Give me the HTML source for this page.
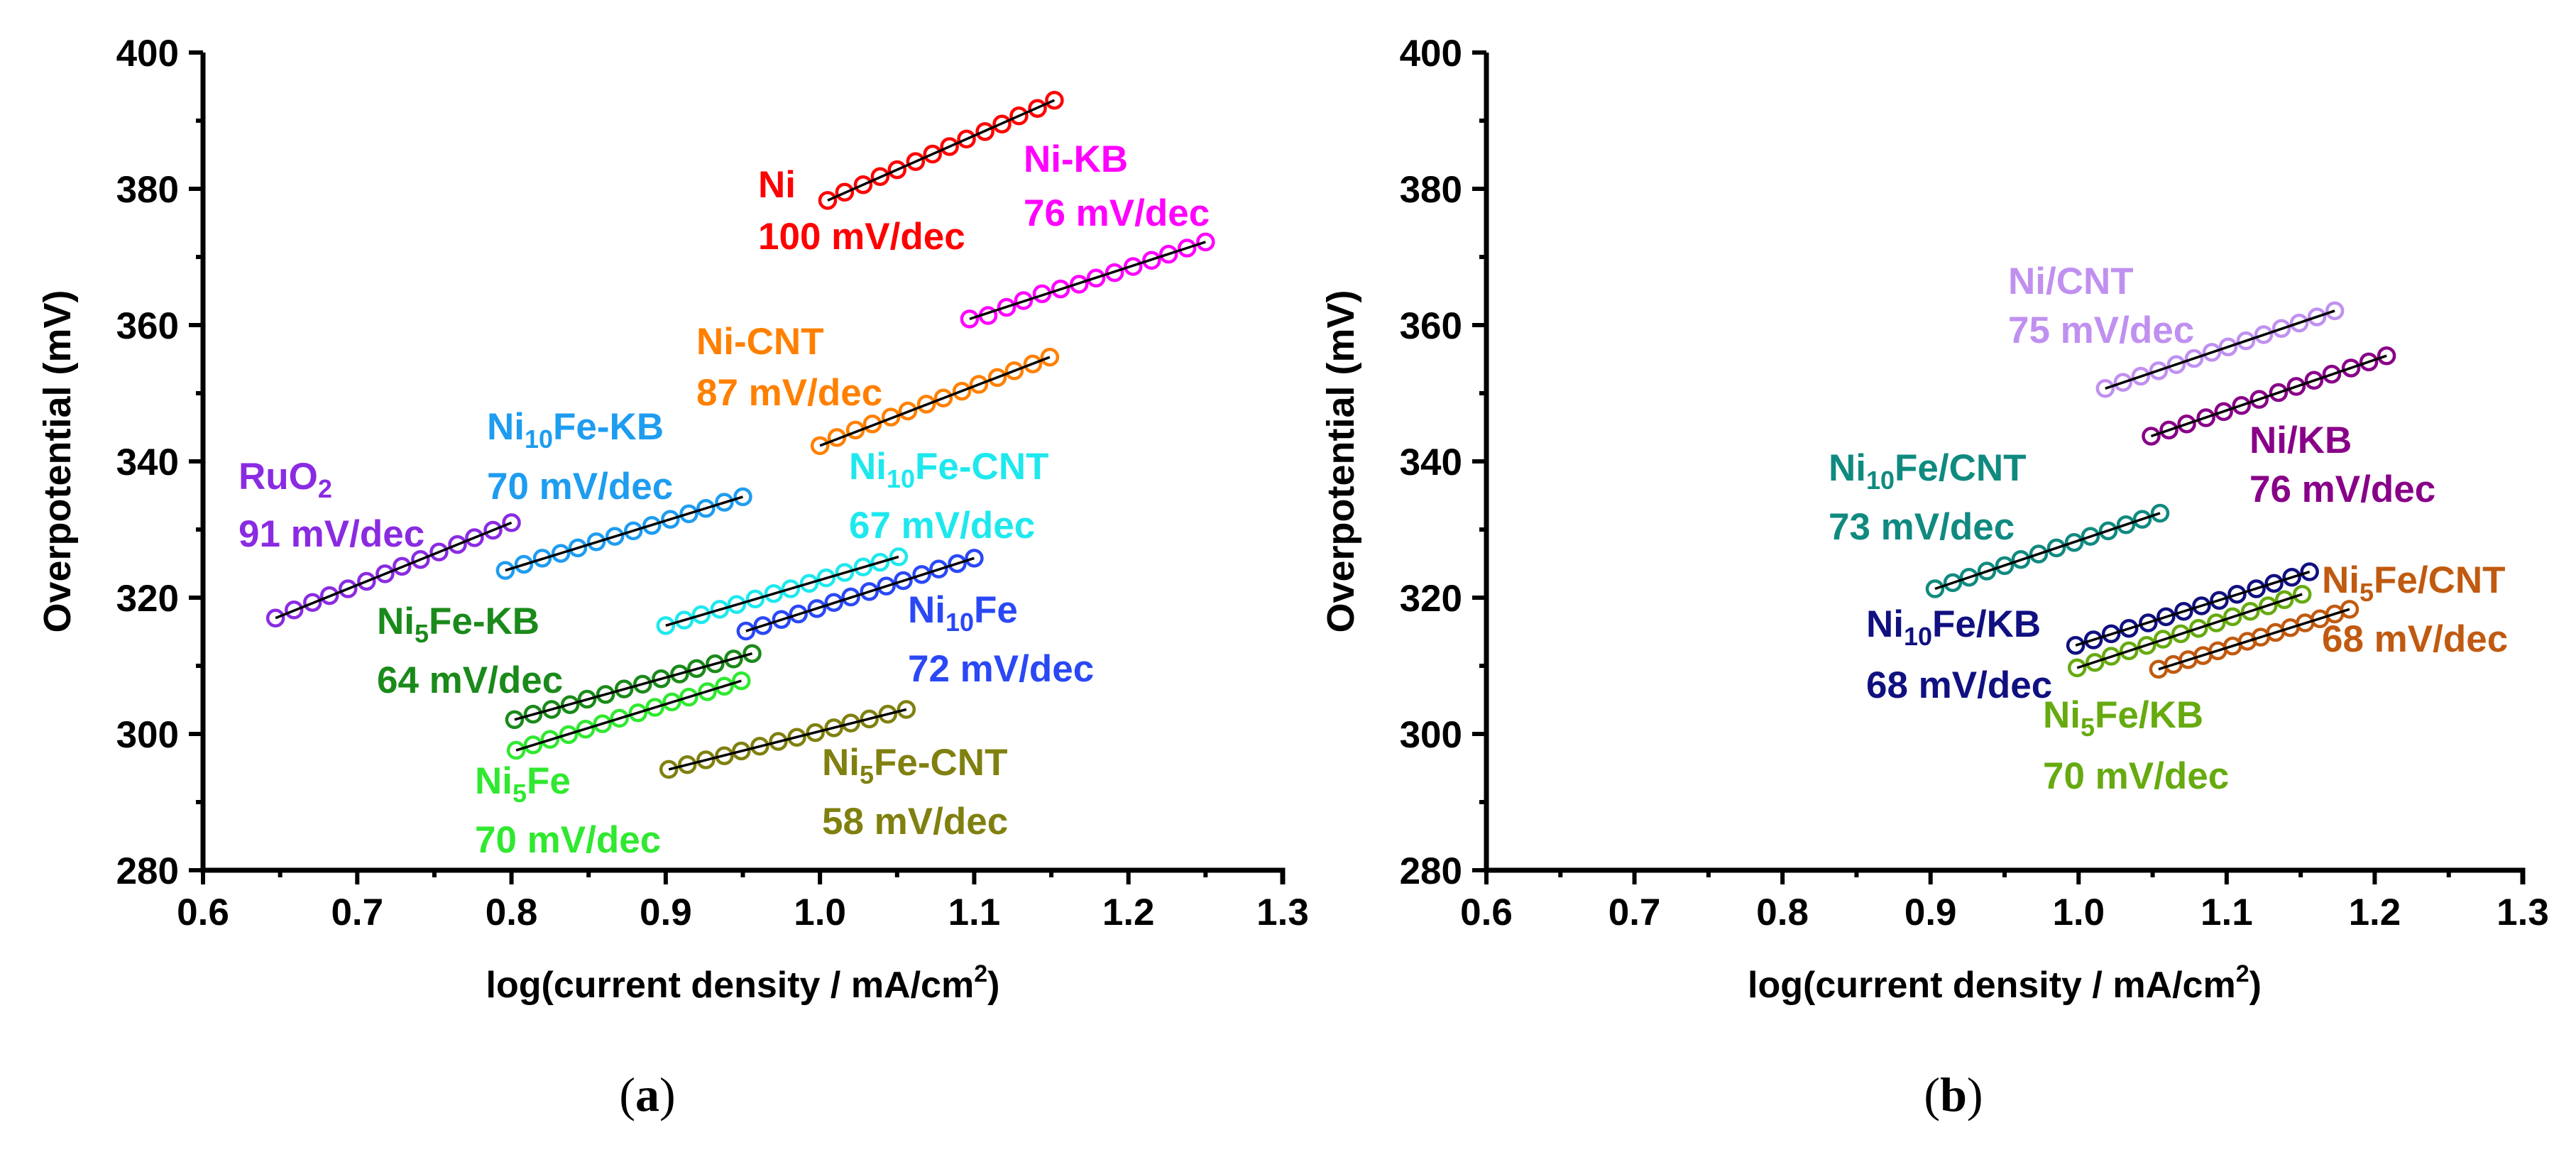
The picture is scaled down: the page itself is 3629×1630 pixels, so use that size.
<!DOCTYPE html>
<html><head><meta charset="utf-8"><style>
html,body{margin:0;padding:0;background:#fff;}
svg{display:block;font-family:"Liberation Sans",Arial,sans-serif;}
</style></head><body>
<svg id="fig" width="3629" height="1630" viewBox="0 0 3629 1630" xmlns="http://www.w3.org/2000/svg"></svg>
<script>
// ---- axis data ----
const xTicks=[0.6,0.7,0.8,0.9,1.0,1.1,1.2,1.3];
const xTickLabels=["0.6","0.7","0.8","0.9","1.0","1.1","1.2","1.3"];
const yTicks=[280,300,320,340,360,380,400];
const yTickLabels=["280","300","320","340","360","380","400"];
// ---- panel (a) series ----
const niX=[1.005,1.016,1.028,1.039,1.050,1.062,1.073,1.084,1.095,1.107,1.118,1.129,1.141,1.152];
const niY=[378.3,379.5,380.6,381.8,382.8,384.0,385.1,386.2,387.3,388.4,389.5,390.7,391.8,393.0];
const niKbX=[1.097,1.109,1.121,1.132,1.144,1.156,1.168,1.179,1.191,1.203,1.215,1.226,1.238,1.250];
const niKbY=[360.9,361.4,362.6,363.6,364.6,365.3,366.0,366.9,367.7,368.6,369.5,370.4,371.3,372.2];
const niCntX=[1.000,1.011,1.023,1.034,1.046,1.057,1.069,1.080,1.092,1.103,1.115,1.126,1.138,1.149];
const niCntY=[342.3,343.5,344.6,345.5,346.5,347.4,348.4,349.3,350.3,351.3,352.3,353.3,354.3,355.3];
const ni10KbX=[0.796,0.808,0.820,0.832,0.843,0.855,0.867,0.879,0.891,0.903,0.915,0.926,0.938,0.950];
const ni10KbY=[324.0,324.9,325.8,326.5,327.3,328.2,329.0,329.8,330.6,331.5,332.3,333.1,334.0,334.8];
const ruX=[0.647,0.659,0.671,0.682,0.694,0.706,0.718,0.729,0.741,0.753,0.765,0.776,0.788,0.800];
const ruY=[317.0,318.2,319.3,320.3,321.3,322.4,323.5,324.6,325.6,326.7,327.8,328.8,329.9,331.0];
const ni10CntX=[0.900,0.912,0.923,0.935,0.946,0.958,0.970,0.981,0.993,1.004,1.016,1.028,1.039,1.051];
const ni10CntY=[315.9,316.7,317.5,318.3,319.0,319.8,320.6,321.3,322.1,322.9,323.7,324.5,325.2,326.0];
const ni10X=[0.952,0.963,0.975,0.986,0.998,1.009,1.020,1.032,1.043,1.054,1.066,1.077,1.089,1.100];
const ni10Y=[315.1,315.9,316.8,317.6,318.4,319.3,320.1,320.9,321.7,322.5,323.4,324.2,325.0,325.8];
const ni5KbX=[0.802,0.814,0.826,0.838,0.849,0.861,0.873,0.885,0.897,0.909,0.920,0.932,0.944,0.956];
const ni5KbY=[302.1,302.9,303.6,304.3,305.1,305.8,306.6,307.3,308.1,308.8,309.6,310.3,311.0,311.8];
const ni5X=[0.803,0.814,0.825,0.837,0.848,0.859,0.870,0.882,0.893,0.904,0.915,0.927,0.938,0.949];
const ni5Y=[297.6,298.4,299.2,299.9,300.7,301.5,302.3,303.1,303.9,304.7,305.4,306.2,307.0,307.8];
const ni5CntX=[0.902,0.914,0.926,0.938,0.949,0.961,0.973,0.985,0.997,1.009,1.020,1.032,1.044,1.056];
const ni5CntY=[294.8,295.5,296.2,296.8,297.5,298.2,298.9,299.5,300.2,300.9,301.6,302.2,302.9,303.6];
// ---- panel (b) series ----
const bNiCntX=[1.018,1.030,1.042,1.054,1.066,1.078,1.090,1.101,1.113,1.125,1.137,1.149,1.161,1.173];
const bNiCntY=[350.7,351.6,352.5,353.3,354.2,355.1,356.0,356.8,357.7,358.6,359.5,360.3,361.2,362.1];
const bNiKbX=[1.049,1.061,1.073,1.086,1.098,1.110,1.122,1.135,1.147,1.159,1.171,1.184,1.196,1.208];
const bNiKbY=[343.7,344.6,345.5,346.4,347.3,348.2,349.1,350.1,351.0,351.9,352.8,353.7,354.6,355.5];
const bNi10CntX=[0.903,0.915,0.926,0.938,0.950,0.961,0.973,0.985,0.997,1.008,1.020,1.032,1.043,1.055];
const bNi10CntY=[321.3,322.2,323.0,323.9,324.7,325.6,326.4,327.3,328.1,329.0,329.8,330.7,331.5,332.4];
const bNi10KbX=[0.998,1.010,1.022,1.034,1.047,1.059,1.071,1.083,1.095,1.107,1.120,1.132,1.144,1.156];
const bNi10KbY=[313.0,313.8,314.7,315.5,316.3,317.2,318.0,318.8,319.6,320.5,321.3,322.1,323.0,323.8];
const bNi5KbX=[0.999,1.011,1.022,1.034,1.046,1.057,1.069,1.081,1.093,1.104,1.116,1.128,1.139,1.151];
const bNi5KbY=[309.7,310.5,311.4,312.2,313.0,313.9,314.7,315.5,316.3,317.2,318.0,318.8,319.7,320.5];
const bNi5CntX=[1.054,1.064,1.074,1.084,1.094,1.104,1.114,1.123,1.133,1.143,1.153,1.163,1.173,1.183];
const bNi5CntY=[309.5,310.2,310.9,311.5,312.2,312.9,313.6,314.2,314.9,315.6,316.3,316.9,317.6,318.3];

const NS="http://www.w3.org/2000/svg";
const svg=document.getElementById('fig');
function mk(tag,attrs,parent){const e=document.createElementNS(NS,tag);for(const k in attrs)e.setAttribute(k,attrs[k]);(parent||svg).appendChild(e);return e;}

const panels=[
 {id:'a',x0:286,x1:1807,y0:1226,y1:74,title:'(a)',titleX:912,
  series:[
   {n:'ni',x:niX,y:niY,c:'#ff0000',l1:'Ni',l2:'100 mV/dec',lx:1068,ly1:259,ly2:332},
   {n:'ni-kb',x:niKbX,y:niKbY,c:'#ff00ff',l1:'Ni-KB',l2:'76 mV/dec',lx:1442,ly1:223,ly2:299},
   {n:'ni-cnt',x:niCntX,y:niCntY,c:'#ff8000',l1:'Ni-CNT',l2:'87 mV/dec',lx:981,ly1:480,ly2:552},
   {n:'ni10fe-kb',x:ni10KbX,y:ni10KbY,c:'#1e9cf0',l1:'Ni<tspan font-size="36" dy="12">10</tspan><tspan dy="-12">Fe-KB</tspan>',l2:'70 mV/dec',lx:686,ly1:600,ly2:684},
   {n:'ruo2',x:ruX,y:ruY,c:'#8a2be2',l1:'RuO<tspan font-size="36" dy="12">2</tspan>',l2:'91 mV/dec',lx:336,ly1:670,ly2:751},
   {n:'ni10fe-cnt',x:ni10CntX,y:ni10CntY,c:'#1ee8ee',l1:'Ni<tspan font-size="36" dy="12">10</tspan><tspan dy="-12">Fe-CNT</tspan>',l2:'67 mV/dec',lx:1196,ly1:656,ly2:739},
   {n:'ni10fe',x:ni10X,y:ni10Y,c:'#2a48f5',l1:'Ni<tspan font-size="36" dy="12">10</tspan><tspan dy="-12">Fe</tspan>',l2:'72 mV/dec',lx:1279,ly1:858,ly2:941},
   {n:'ni5fe-kb',x:ni5KbX,y:ni5KbY,c:'#1a8a1a',l1:'Ni<tspan font-size="36" dy="12">5</tspan><tspan dy="-12">Fe-KB</tspan>',l2:'64 mV/dec',lx:531,ly1:874,ly2:957},
   {n:'ni5fe',x:ni5X,y:ni5Y,c:'#30e830',l1:'Ni<tspan font-size="36" dy="12">5</tspan><tspan dy="-12">Fe</tspan>',l2:'70 mV/dec',lx:669,ly1:1099,ly2:1182},
   {n:'ni5fe-cnt',x:ni5CntX,y:ni5CntY,c:'#808010',l1:'Ni<tspan font-size="36" dy="12">5</tspan><tspan dy="-12">Fe-CNT</tspan>',l2:'58 mV/dec',lx:1158,ly1:1073,ly2:1156}
  ]},
 {id:'b',x0:2094,x1:3554,y0:1226,y1:74,title:'(b)',titleX:2752,
  series:[
   {n:'ni-cnt-b',x:bNiCntX,y:bNiCntY,c:'#c090f0',l1:'Ni/CNT',l2:'75 mV/dec',lx:2829,ly1:395,ly2:464},
   {n:'ni-kb-b',x:bNiKbX,y:bNiKbY,c:'#880088',l1:'Ni/KB',l2:'76 mV/dec',lx:3169,ly1:619,ly2:688},
   {n:'ni10fe-cnt-b',x:bNi10CntX,y:bNi10CntY,c:'#108a80',l1:'Ni<tspan font-size="36" dy="12">10</tspan><tspan dy="-12">Fe/CNT</tspan>',l2:'73 mV/dec',lx:2576,ly1:658,ly2:741},
   {n:'ni10fe-kb-b',x:bNi10KbX,y:bNi10KbY,c:'#101080',l1:'Ni<tspan font-size="36" dy="12">10</tspan><tspan dy="-12">Fe/KB</tspan>',l2:'68 mV/dec',lx:2629,ly1:878,ly2:964},
   {n:'ni5fe-kb-b',x:bNi5KbX,y:bNi5KbY,c:'#66aa10',l1:'Ni<tspan font-size="36" dy="12">5</tspan><tspan dy="-12">Fe/KB</tspan>',l2:'70 mV/dec',lx:2878,ly1:1006,ly2:1092},
   {n:'ni5fe-cnt-b',x:bNi5CntX,y:bNi5CntY,c:'#c05a10',l1:'Ni<tspan font-size="36" dy="12">5</tspan><tspan dy="-12">Fe/CNT</tspan>',l2:'68 mV/dec',lx:3271,ly1:816,ly2:899}
  ]}
];

panels.forEach(p=>{
  const sx=v=>p.x0+(v-0.6)/(1.3-0.6)*(p.x1-p.x0);
  const sy=v=>p.y0-(v-280)/(400-280)*(p.y0-p.y1);
  const g=mk('g',{});
  
  
  xTicks.forEach((t,i)=>{
    const x=sx(t);
    const tk=mk('line',{x1:x,y1:p.y0,x2:x,y2:p.y0+20,stroke:'#000','stroke-width':6},g);
    
    
    if(i<xTicks.length-1){const xm=sx(t+0.05);
      const mt=mk('line',{x1:xm,y1:p.y0,x2:xm,y2:p.y0+10,stroke:'#000','stroke-width':6},g);
      
      }
    const lb=mk('text',{x:x,y:1303,'text-anchor':'middle','font-size':53,'font-weight':'bold'},g);
    lb.textContent=xTickLabels[i];
    
    
  });
  yTicks.forEach((t,i)=>{
    const y=sy(t);
    const tk=mk('line',{x1:p.x0-20,y1:y,x2:p.x0,y2:y,stroke:'#000','stroke-width':6},g);
    
    
    if(i<yTicks.length-1){const ym=sy(t+10);
      const mt=mk('line',{x1:p.x0-10,y1:ym,x2:p.x0,y2:ym,stroke:'#000','stroke-width':6},g);
      
      }
    const lb=mk('text',{x:p.x0-34,y:y+19,'text-anchor':'end','font-size':53,'font-weight':'bold'},g);
    lb.textContent=yTickLabels[i];
    
    
  });
  const ax=mk('path',{d:`M${p.x0},${p.y1} V${p.y0} H${p.x1} V${p.y0+20}`,fill:'none',stroke:'#000','stroke-width':7},g);
  
  
  const xt=mk('text',{x:(p.x0+p.x1)/2,y:1405,'text-anchor':'middle','font-size':52,'font-weight':'bold'},g);
  xt.innerHTML='log(current density / mA/cm<tspan font-size="34" dy="-22">2</tspan><tspan dy="22">)</tspan>';
  
  
  const yt=mk('text',{x:0,y:0,'text-anchor':'middle','font-size':54,'font-weight':'bold',transform:`translate(${p.x0-187},${(p.y0+p.y1)/2}) rotate(-90)`},g);
  yt.textContent='Overpotential (mV)';
  
  
  const pt=mk('text',{x:p.titleX,y:1565,'text-anchor':'middle','font-size':68,'font-family':'"Liberation Serif",serif'},g);
  pt.innerHTML='(<tspan font-weight="bold">'+p.id+'</tspan>)';
  
  
  p.series.forEach(s=>{
    const sg=mk('g',{},g);
    
    
    s.x.forEach((xv,i)=>{
      const c=mk('circle',{cx:sx(xv),cy:sy(s.y[i]),r:11,fill:'none',stroke:s.c,'stroke-width':4.5},sg);
      
      
    });
    const n=s.x.length-1;
    const fl=mk('line',{x1:sx(s.x[0]),y1:sy(s.y[0]),x2:sx(s.x[n]),y2:sy(s.y[n]),stroke:'#000','stroke-width':3.5},sg);
    
    
    const t1=mk('text',{x:s.lx,y:s.ly1+19,'font-size':53,'font-weight':'bold',fill:s.c},sg);
    t1.innerHTML=s.l1;
    
    
    const t2=mk('text',{x:s.lx,y:s.ly2+19,'font-size':53,'font-weight':'bold',fill:s.c},sg);
    t2.textContent=s.l2;
    
    
  });
});
</script>
</body></html>
